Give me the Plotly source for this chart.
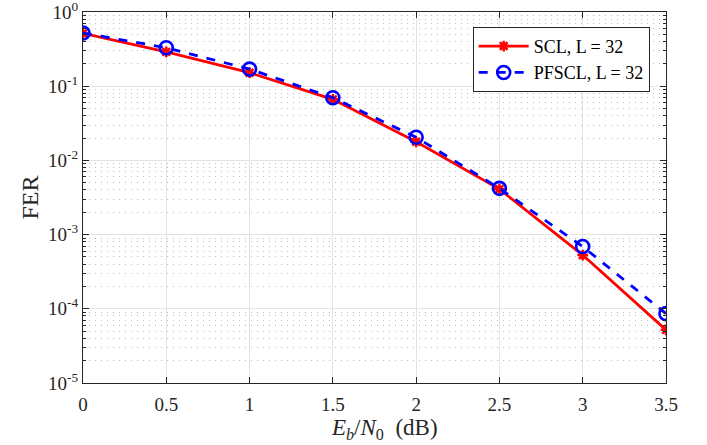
import plotly.graph_objects as go

# Eb/N0 (dB) sweep and frame error rates
ebn0_db = [0, 0.5, 1, 1.5, 2, 2.5, 3, 3.5]
fer_scl = [0.515, 0.29, 0.152, 0.0665, 0.0178, 0.0041, 5.3e-4, 5.2e-5]
fer_pfscl = [0.52, 0.33, 0.17, 0.070, 0.0205, 0.0042, 6.9e-4, 8.6e-5]

x_ticks = [0, 0.5, 1, 1.5, 2, 2.5, 3, 3.5]
x_ticktext = ["0", "0.5", "1", "1.5", "2", "2.5", "3", "3.5"]
y_ticks = [1, 1e-1, 1e-2, 1e-3, 1e-4, 1e-5]
y_ticktext = ["10<sup>0</sup>", "10<sup>-1</sup>", "10<sup>-2</sup>",
              "10<sup>-3</sup>", "10<sup>-4</sup>", "10<sup>-5</sup>"]
x_label = "<i>E</i><sub><i>b</i></sub>/<i>N</i><sub>0</sub>  (dB)"
y_label = "FER"

FONT = "Liberation Serif, Times New Roman, serif"
AXIS_COLOR = "#262626"

fig = go.Figure()
fig.add_trace(go.Scatter(
    x=ebn0_db, y=fer_scl, name="SCL, L = 32",
    mode="lines+markers",
    line=dict(color="#ff0000", width=2.8),
    marker=dict(symbol="asterisk-open", size=9,
                line=dict(color="#ff0000", width=2.5)),
))
fig.add_trace(go.Scatter(
    x=ebn0_db, y=fer_pfscl, name="PFSCL, L = 32",
    mode="lines+markers",
    line=dict(color="#0000ff", width=2.8, dash="dash"),
    marker=dict(symbol="circle-open", size=13,
                line=dict(color="#0000ff", width=2.6)),
))

fig.update_layout(
    width=707, height=445,
    margin=dict(l=83, r=41, t=12, b=62, autoexpand=False),
    paper_bgcolor="white", plot_bgcolor="white",
    font=dict(family=FONT, size=19, color=AXIS_COLOR),
    showlegend=True,
    legend=dict(
        x=0.972, y=0.96, xanchor="right", yanchor="top",
        bgcolor="white", bordercolor=AXIS_COLOR, borderwidth=1,
        font=dict(family=FONT, size=18, color="black"),
        tracegroupgap=0, itemwidth=50,
    ),
    annotations=[dict(
        text=x_label, xref="paper", yref="paper",
        x=0.518, y=-0.124, xanchor="center", yanchor="middle",
        showarrow=False,
        font=dict(family=FONT, size=23, color=AXIS_COLOR),
    )],
)

fig.update_xaxes(
    range=[0, 3.5], automargin=False,
    tickvals=x_ticks, ticktext=x_ticktext,
    ticks="inside", ticklen=6, tickcolor=AXIS_COLOR,
    ticklabelstandoff=4,
    showline=True, linecolor=AXIS_COLOR, linewidth=1, mirror="ticks",
    showgrid=True, gridcolor="#e3e3e3", gridwidth=1,
    zeroline=False,
    tickfont=dict(family=FONT, size=19, color=AXIS_COLOR),
)

fig.update_yaxes(
    type="log", range=[-5, 0], automargin=False,
    tickvals=y_ticks, ticktext=y_ticktext,
    ticklabeloverflow="allow",
    ticks="inside", ticklen=6, tickcolor=AXIS_COLOR,
    showline=True, linecolor=AXIS_COLOR, linewidth=1, mirror="ticks",
    showgrid=True, gridcolor="#e3e3e3", gridwidth=1,
    zeroline=False,
    minor=dict(dtick="D1", ticks="inside", ticklen=3, tickcolor=AXIS_COLOR,
               showgrid=True, gridcolor="#bdbdbd", griddash="1px,5px",
               gridwidth=1),
    tickfont=dict(family=FONT, size=19, color=AXIS_COLOR),
    title=dict(text=y_label, font=dict(family=FONT, size=24, color=AXIS_COLOR),
               standoff=2),
)

fig.write_html("out.html")
